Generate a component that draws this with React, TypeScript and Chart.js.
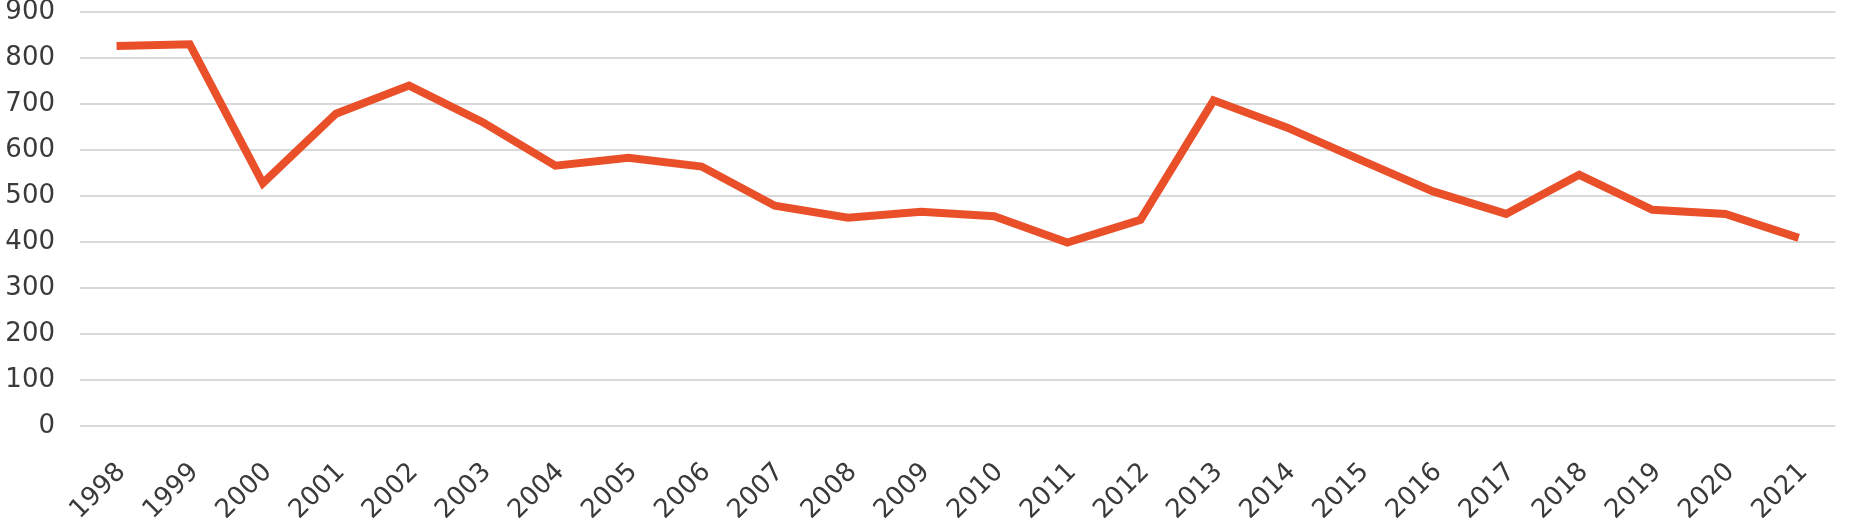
import React, { useEffect, useRef } from "react";
import { Chart, registerables } from "chart.js";

Chart.register(...registerables);

const years: string[] = [
  "1998", "1999", "2000", "2001", "2002", "2003", "2004", "2005", "2006", "2007", "2008", "2009",
  "2010", "2011", "2012", "2013", "2014", "2015", "2016", "2017", "2018", "2019", "2020", "2021",
];
const values: number[] = [
  826, 830, 528, 679, 740, 661, 566, 583, 564, 479, 453, 466,
  456, 399, 448, 708, 649, 579, 510, 461, 546, 470, 461, 409,
];
const yTicks: number[] = [0, 100, 200, 300, 400, 500, 600, 700, 800, 900];

export default function App() {
  const ref = useRef<HTMLCanvasElement | null>(null);
  useEffect(() => {
    document.body.style.margin = "0";
    const ctx = ref.current;
    if (!ctx) return;
    const chart = new Chart(ctx, {
      type: "line",
      data: {
        labels: years,
        datasets: [
          {
            data: values,
            borderColor: "#E9502A",
            borderWidth: 8,
            pointRadius: 0,
            tension: 0,
            borderJoinStyle: "miter",
            borderCapStyle: "butt",
          },
        ],
      },
      options: {
        animation: false,
        responsive: false,
        layout: { padding: { top: 12, right: 14, bottom: 0, left: 0 } },
        plugins: { legend: { display: false }, tooltip: { enabled: false } },
        scales: {
          x: {
            offset: true,
            afterFit: (s: any) => {
              s.height = 105;
            },
            grid: { display: false, drawTicks: false },
            border: { display: false },
            ticks: {
              minRotation: 45,
              maxRotation: 45,
              padding: 31,
              labelOffset: 5,
              color: "#3a3a3a",
              font: { family: "DejaVu Sans", size: 26 },
            },
          },
          y: {
            min: 0,
            max: 900,
            afterFit: (s: any) => {
              s.width = 80;
            },
            afterBuildTicks: (s: any) => {
              s.ticks = yTicks.map((v) => ({ value: v }));
            },
            grid: {
              color: "#d9d9d9",
              lineWidth: 2,
              drawTicks: true,
              tickLength: 25,
              tickColor: "rgba(0,0,0,0)",
            },
            border: { display: false },
            ticks: {
              padding: 0,
              color: "#3a3a3a",
              font: { family: "DejaVu Sans", size: 26, lineHeight: 0.9 },
            },
          },
        },
      },
    });
    return () => chart.destroy();
  }, []);
  return (
    <div style={{ width: 1852, height: 531, background: "#fff" }}>
      <canvas ref={ref} width={1852} height={531} style={{ display: "block" }} />
    </div>
  );
}
